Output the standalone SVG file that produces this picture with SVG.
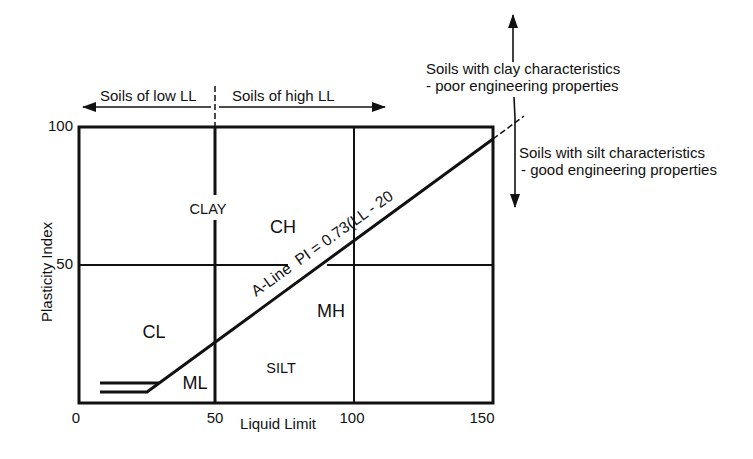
<svg xmlns="http://www.w3.org/2000/svg" width="753" height="459" viewBox="0 0 753 459">
<defs>
<marker id="ah" viewBox="0 0 14 10" refX="13" refY="5" markerWidth="14" markerHeight="10" markerUnits="userSpaceOnUse" orient="auto">
<path d="M0,0 L14,5 L0,10 Z" fill="#111"/>
</marker>
</defs>
<style>
text{font-family:"Liberation Sans",Arial,sans-serif;fill:#111}
.t15{font-size:15px}
.t14{font-size:14.5px}
.t18{font-size:18px}
.thick{stroke:#111;stroke-width:3;fill:none}
.thin{stroke:#111;stroke-width:2;fill:none}
.arr{stroke:#111;stroke-width:1.6;fill:none;marker-end:url(#ah)}
.dash{stroke:#111;stroke-width:1.5;fill:none;stroke-dasharray:6,3}
</style>
<rect width="753" height="459" fill="#fff"/>
<g id="chart">
<rect x="79" y="127" width="414" height="276" class="thick"/>
<line x1="79" y1="265" x2="288" y2="265" class="thin"/>
<line x1="327" y1="265" x2="493" y2="265" class="thin"/>
<line x1="354" y1="127" x2="354" y2="403" class="thin"/>
<line x1="215" y1="127" x2="215" y2="195" class="thick"/>
<line x1="215" y1="220" x2="215" y2="403" class="thick"/>
</g>
<g id="a-line">
<polyline points="100,392 147,392 493,139" class="thick" stroke-width="2.6"/>
<line x1="100" y1="383" x2="159" y2="383" class="thick" stroke-width="2.6"/>
<line x1="493" y1="139" x2="524" y2="116" class="dash"/>
<text x="256" y="297" font-size="15.6" transform="rotate(-35.5 256 297)" xml:space="preserve">A-Line  PI = 0.73(LL - 20</text>
</g>
<g id="connectors">
<line x1="215" y1="86" x2="215" y2="127" class="dash"/>
<line x1="211" y1="107" x2="83" y2="107" class="arr"/>
<line x1="219" y1="107" x2="385" y2="107" class="arr"/>
<line x1="513" y1="62" x2="513" y2="15" class="arr"/>
<polyline points="514,97 515,118 515,207" class="arr"/>
</g>
<g id="labels">
<text class="t15" x="100" y="101">Soils of low LL</text>
<text class="t15" x="232" y="101">Soils of high LL</text>
<text class="t15" x="426" y="74" font-size="15.5">Soils with clay characteristics</text>
<text class="t15" x="426" y="91" font-size="15.5">- poor engineering properties</text>
<text class="t15" x="519" y="158" font-size="15.5">Soils with silt characteristics</text>
<text class="t15" x="521" y="175" font-size="15.5">- good engineering properties</text>
<text class="t14" x="208" y="214" text-anchor="middle">CLAY</text>
<text class="t18" x="283" y="233" text-anchor="middle">CH</text>
<text class="t18" x="154" y="338" text-anchor="middle">CL</text>
<text class="t18" x="331" y="317" text-anchor="middle">MH</text>
<text class="t18" x="195" y="389" text-anchor="middle">ML</text>
<text class="t14" x="281" y="373" text-anchor="middle">SILT</text>
</g>
<g id="axes">
<text class="t15" x="73" y="131" text-anchor="end">100</text>
<text class="t15" x="73" y="269" text-anchor="end">50</text>
<text class="t15" x="76" y="423" text-anchor="middle">0</text>
<text class="t15" x="215" y="423" text-anchor="middle">50</text>
<text class="t15" x="352" y="423" text-anchor="middle">100</text>
<text class="t15" x="482" y="423" text-anchor="middle">150</text>
<text class="t15" x="278" y="429" text-anchor="middle">Liquid Limit</text>
<text class="t15" x="52" y="272" text-anchor="middle" transform="rotate(-90 52 272)">Plasticity Index</text>
</g>
</svg>
